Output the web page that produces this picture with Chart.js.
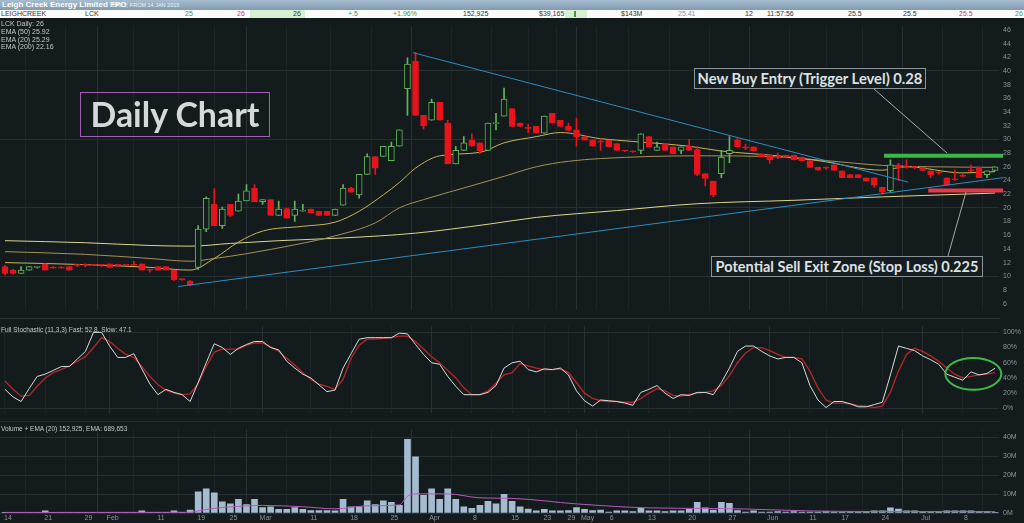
<!DOCTYPE html>
<html><head><meta charset="utf-8">
<script src="https://cdn.jsdelivr.net/npm/chart.js@4.4.1/dist/chart.umd.min.js"></script>
<style>
html,body{margin:0;padding:0;background:#141b1d;width:1024px;height:523px;overflow:hidden;font-family:"Liberation Sans",Arial,sans-serif;}
.abs{position:absolute;}
canvas{position:absolute;left:0;}
.hdr{position:absolute;top:0;font-size:7px;line-height:8px;white-space:nowrap;}
.lg{position:absolute;left:1px;font-size:7px;line-height:8px;color:#c3c8ca;white-space:nowrap;z-index:5;}
.box{position:absolute;box-sizing:border-box;text-align:center;white-space:nowrap;z-index:6;}
.box span{display:inline-block;font-family:Lato,"Open Sans",sans-serif;font-weight:bold;color:#dde1e3;}
</style></head><body>

<div class="abs" style="left:0;top:0;width:1024px;height:10px;background:linear-gradient(#a7bdd0,#809ab1);">
  <span class="abs" style="left:2px;top:0;font:bold 8px/10px 'Liberation Sans',Arial;color:#fff;">Leigh Creek Energy Limited FPO</span>
  <span class="abs" style="left:112px;top:0;font:5.5px/10px 'Liberation Sans',Arial;color:#eef3f8;">DAILY, FROM 14 JAN 2019</span>
</div>
<div class="abs" style="left:0;top:10px;width:1024px;height:8px;background:#fbfcfb;">
  <div class="abs" style="left:250px;top:0;width:55px;height:8px;background:#d6f0cf;"></div>
  <div class="abs" style="left:565px;top:0;width:22px;height:8px;background:#d6f0cf;"></div>
  <div class="abs" style="left:574px;top:1px;width:2px;height:6px;background:#3d9a3d;"></div>
  <span class="hdr" style="left:1px;color:#333;">LEIGHCREEK</span>
  <span class="hdr" style="left:85px;color:#333;">LCK</span>
  <span class="hdr" style="left:185px;color:#3d9a3d;">25</span>
  <span class="hdr" style="left:237px;color:#d04040;">26</span>
  <span class="hdr" style="left:293px;color:#333;">26</span>
  <span class="hdr" style="left:348px;color:#3d9a3d;">+.5</span>
  <span class="hdr" style="left:393px;color:#3d9a3d;">+1.96%</span>
  <span class="hdr" style="left:463px;color:#333;">152,925</span>
  <span class="hdr" style="left:539px;color:#333;">$39,165</span>
  <span class="hdr" style="left:621px;color:#333;">$143M</span>
  <span class="hdr" style="left:678px;color:#7f93a8;">25.41</span>
  <span class="hdr" style="left:745px;color:#333;">12</span>
  <span class="hdr" style="left:767px;color:#333;">11:57:56</span>
  <span class="hdr" style="left:848px;color:#333;">25.5</span>
  <span class="hdr" style="left:903px;color:#333;">25.5</span>
  <span class="hdr" style="left:959px;color:#d04040;">25.5</span>
  <span class="hdr" style="left:1015px;color:#3d9a3d;">26</span>
</div>

<canvas id="price" width="1024" height="300" style="top:18px"></canvas>
<canvas id="stoch" width="1024" height="103" style="top:318px"></canvas>
<canvas id="vol" width="1024" height="102" style="top:421px"></canvas>
<div class="abs" style="left:0;top:318px;width:1000px;height:1px;background:#2c3538;z-index:4"></div>
<div class="abs" style="left:0;top:421px;width:1000px;height:1px;background:#232c2f;z-index:4"></div>

<div class="lg" style="top:20px">LCK Daily: 26</div>
<div class="lg" style="top:28px">EMA (50) 25.92</div>
<div class="lg" style="top:36px">EMA (20) 25.29</div>
<div class="lg" style="top:43px">EMA (200) 22.16</div>
<div class="lg" style="top:326px;font-size:6.5px">Full Stochastic (11,3,3) Fast: 52.8, Slow: 47.1</div>
<div class="lg" style="top:425px;font-size:6.5px">Volume + EMA (20) 152,925, EMA: 689,653</div>

<svg class="abs" style="left:0;top:0;z-index:5" width="1024" height="523">
  <line x1="874" y1="89" x2="947" y2="153" stroke="#a3a9ac" stroke-width="1"/>
  <line x1="948" y1="256" x2="966" y2="192" stroke="#a3a9ac" stroke-width="1"/>
</svg>

<div class="box" style="left:80px;top:92px;width:190px;height:45px;border:1.5px solid #a35db5;line-height:42px;"><span class="fit" data-w="169" style="color:#d6d9db">Daily Chart</span></div>
<div class="box" style="left:694px;top:68px;width:232px;height:21px;border:1px solid #8b9396;background:#161d20;line-height:19px;"><span class="fit" data-w="225">New Buy Entry (Trigger Level) 0.28</span></div>
<div class="box" style="left:711px;top:256px;width:272px;height:21px;border:1px solid #8b9396;background:#161d20;line-height:19px;"><span class="fit" data-w="263">Potential Sell Exit Zone (Stop Loss) 0.225</span></div>

<script>
// ---------- DATA ----------
const tickIndex  = [0,5,10,13,19,24,28,32,38,43,48,53,58,63,67,70,72,75,80,85,90,95,100,104,109,114,119];
const tickLabels = ["14","21","29","Feb","11","19","25","Mar","11","18","25","Apr","8","15","23","29","May","6","13","20","27","Jun","11","17","24","Jul","8"];
const monthTicks = [13,32,53,72,95,114];

const opens = [11.4,10.9,10.4,10.9,11.3,11.8,11.2,11.2,11.4,11.6,
 11.6,11.6,11.6,11.8,11.6,11.6,11.6,11.8,10.9,11.4,
 11.4,10.9,9.5,9.3,11.3,16.9,20.5,17.4,20.5,19.5,
 21.0,22.9,20.9,21.2,18.9,19.9,18.9,19.5,19.8,19.5,
 19.5,18.9,20.4,22.9,21.9,24.9,27.5,27.5,26.9,29.0,
 37.4,41.4,33.5,32.8,35.4,32.4,26.4,28.4,29.9,29.5,
 28.4,32.3,33.4,34.5,32.4,31.6,31.9,30.9,33.8,32.8,
 31.9,31.4,30.4,29.9,29.6,29.9,29.4,28.3,28.2,28.4,
 30.4,28.4,29.4,28.9,28.4,29.0,28.5,25.0,23.9,25.0,
 27.9,29.9,28.9,28.9,27.9,27.7,27.4,27.7,27.7,27.4,
 26.9,25.9,25.8,26.3,25.4,24.85,24.85,24.4,24.4,23.0,
 22.5,26.3,25.9,25.9,25.9,25.4,25.1,24.4,24.1,24.6,
 25.4,25.9,24.85,25.45];
const highs = [11.6,11.0,11.4,11.4,11.4,11.8,11.4,11.4,11.4,11.6,
 11.8,11.6,11.6,11.8,11.6,11.6,12.2,11.8,10.9,11.4,
 11.4,10.9,9.6,9.4,17.4,21.6,22.8,20.1,20.5,22.0,
 23.4,23.4,21.2,21.2,21.0,19.9,21.0,20.5,19.8,19.5,
 19.5,19.8,23.4,23.0,24.9,27.9,27.5,29.0,29.6,31.4,
 41.9,42.7,33.5,35.9,35.4,32.8,29.0,30.4,30.8,29.5,
 32.4,33.8,37.5,34.5,32.4,32.2,31.9,33.4,33.8,32.8,
 32.4,33.1,30.4,29.9,30.1,29.9,29.4,28.4,28.3,30.8,
 30.4,29.6,29.4,28.9,28.9,30.0,29.0,25.0,23.9,28.4,
 30.4,30.3,29.3,28.9,27.9,27.7,28.0,27.7,27.7,27.4,
 26.9,25.9,26.0,26.3,25.4,24.85,24.85,24.4,24.4,23.0,
 27.0,26.5,27.0,26.0,25.9,25.4,25.3,24.4,25.5,25.0,
 26.3,25.9,25.4,26.0];
const lows = [10.2,10.3,10.4,10.9,11.2,10.9,11.2,11.2,10.9,11.4,
 11.4,11.6,11.4,11.3,11.4,11.6,11.6,10.9,10.6,10.9,
 10.9,9.4,9.4,8.6,11.0,16.5,17.4,17.0,18.7,19.5,
 21.0,20.9,20.5,18.9,18.9,18.5,18.0,19.5,19.3,18.9,
 18.9,18.9,20.4,22.3,21.4,24.9,24.9,27.5,26.9,29.0,
 33.5,33.5,31.5,32.8,32.8,26.4,26.4,28.4,29.0,27.9,
 28.4,31.4,33.4,31.9,31.9,31.0,30.9,30.9,32.4,31.9,
 31.3,29.0,29.9,29.0,28.4,28.9,28.4,28.2,28.1,27.9,
 28.9,28.4,28.4,27.9,27.9,28.4,24.7,23.2,21.6,24.4,
 26.6,28.9,28.5,28.3,27.4,26.5,27.2,27.4,27.0,26.9,
 25.9,25.5,25.6,25.45,24.4,24.4,24.4,23.9,23.0,22.0,
 22.3,24.0,25.8,25.7,25.45,24.4,24.9,23.3,24.0,24.5,
 25.3,24.4,24.4,25.45];
const closes = [10.4,10.4,10.9,11.4,11.4,10.9,11.2,11.2,10.9,11.6,
 11.6,11.6,11.6,11.3,11.6,11.6,11.6,10.9,10.9,10.9,
 10.9,9.5,9.5,8.7,16.9,21.4,17.4,19.8,18.9,21.0,
 22.5,20.9,21.2,18.9,19.8,18.5,19.8,19.6,19.3,18.9,
 18.9,19.8,22.9,22.3,24.9,27.5,25.8,29.0,29.0,31.4,
 41.0,33.5,32.0,35.4,32.8,26.4,28.4,29.5,29.0,28.3,
 32.4,32.4,35.9,31.9,31.9,31.6,30.9,33.4,32.4,31.9,
 31.3,30.4,29.9,29.0,29.6,28.9,28.4,28.3,28.2,30.8,
 28.9,28.9,28.4,27.9,28.9,28.4,24.9,24.3,21.9,27.4,
 28.4,28.9,28.7,28.3,27.4,27.0,27.4,27.4,27.0,26.9,
 25.9,25.5,25.8,25.45,24.4,24.4,24.4,23.9,23.3,22.3,
 26.3,25.8,25.9,25.9,25.45,24.85,25.1,23.3,24.1,24.6,
 25.4,24.4,25.4,26.0];

const ema20Pts  = [[0,12.0],[10,11.7],[18,11.3],[23,10.9],[26,12.6],[29,15.0],[32,16.6],[37,17.3],[41,17.9],[44,19.5],[47,21.9],[49,23.7],[51,25.8],[54,27.6],[59,28.1],[62,29.5],[66,30.4],[69,31.0],[74,30.1],[78,29.7],[85,29.0],[89,28.3],[96,27.6],[101,26.9],[109,25.5],[112,26.0],[119,25.1],[123,25.29]];
const ema50Pts  = [[0,13.6],[10,13.2],[18,12.6],[23,12.2],[26,12.6],[30,13.3],[36,14.6],[41,15.9],[46,17.8],[49,20.0],[52,21.2],[57,22.9],[62,24.6],[66,26.0],[70,26.8],[74,27.2],[86,27.6],[95,27.5],[102,26.9],[109,26.2],[115,26.0],[123,25.92]];
const ema200Pts = [[0,15.2],[10,14.9],[18,14.5],[23,14.4],[28,14.8],[34,15.2],[42,15.6],[51,16.3],[60,17.6],[66,18.6],[76,19.6],[86,20.6],[98,21.1],[109,21.6],[123,22.16]];

const trendDown = [[50.7,42.67],[112.2,23.75]];
const trendUp   = [[21.5,8.5],[124.0,24.4]];
const buyLevel  = [[109.2,27.6],[124.0,27.6]];
const stopLevel = [[114.7,22.55],[124.0,22.55]];

const priceTicks = [6,8,10,12,14,16,18,20,22,24,26,28,30,32,34,36,38,40,42,44,46];

const stochFast = [25,15,9,26,42,45,50,55,55,65,
 75,100,100,82,67,67,72,52,32,18,
 25,21,18,9,34,60,85,80,71,79,
 84,88,88,80,77,62,53,45,40,31,
 22,24,53,72,91,93,93,93,93,99,
 98,84,71,60,58,42,29,18,18,18,
 21,30,53,60,62,51,48,52,51,53,
 44,23,10,3,11,10,9,7,4,21,
 25,30,20,13,18,17,21,21,18,34,
 53,75,82,82,75,69,65,67,67,60,
 30,11,1,9,9,6,2,2,5,8,
 44,82,79,76,69,64,58,45,41,37,
 48,44,46,52.8];
const stochSlow = [36,25,16,17,29,40,47,51,56,62,
 68,80,93,88,79,71,67,55,42,31,
 24,20,18,19,33,55,74,78,78,78,
 83,86,86,81,75,66,57,47,38,32,
 29,25,38,66,83,91,91,92,93,95,
 95,88,78,68,60,50,40,27,18,18,
 23,33,44,47,59,56,53,51,51,52,
 47,34,20,13,10,9,9,8,8,13,
 20,26,23,17,16,18,20,21,23,30,
 43,60,73,80,80,76,71,67,67,65,
 49,27,11,7,7,6,4,3,1,3,
 21,49,71,79,75,69,62,53,45,40,
 42,44,45,47.1];
const stochTicks = [0,20,40,60,80,100];
const stochCircle = {x:120.3, y:45.4, rx:3.48, ry:21};

const volumes = [0.4,0.3,0.3,0.3,0.3,1.1,0.4,0.3,0.3,0.3,
 0.3,0.3,0.4,0.3,0.3,0.3,0.3,1.1,0.3,0.3,
 0.3,1.1,0.3,1.6,11.2,12.8,10.7,5.9,4.8,7.2,
 4.5,7.2,2.9,3.2,1.9,1.9,2.9,1.9,1.3,1.3,
 1.3,1.1,7.2,3.2,3.2,6.4,4.5,6.4,5.6,4.0,
 38.9,29.6,9.3,12.8,7.2,12.8,7.2,3.2,2.4,4.0,
 6.1,4.8,9.9,6.1,3.2,2.1,1.1,1.9,1.1,1.1,
 1.3,2.9,1.9,1.3,1.6,0.5,1.1,1.1,0.8,2.4,
 1.1,1.1,0.8,1.1,1.1,1.9,5.6,2.7,1.6,5.6,
 5.1,1.3,0.5,1.1,0.5,0.5,0.8,0.5,0.8,0.5,
 0.5,0.5,0.8,0.5,0.5,0.8,0.5,0.8,1.1,1.1,
 2.7,2.1,1.1,1.1,0.8,0.5,0.5,1.1,1.1,1.1,
 1.1,0.8,0.8,0.15];
const volEmaPts = [[0,0.3],[23,0.4],[24,1.1],[26,2.5],[28,3.2],[32,4.0],[37,3.3],[41,2.2],[45,3.8],[49,4.3],[50,8.8],[51,10.1],[55,10.1],[59,8.0],[63,7.7],[71,4.8],[80,2.7],[88,2.4],[92,2.1],[100,1.1],[108,0.8],[117,0.8],[123,0.69]];
const volTicks = [0,5,10,15,20,25,30,35,40];

// ---------- STYLE ----------
const BG = '#141b1d', GRID = '#273033', GRID_W = '#1c2427';
const UP = '#62b55c', DOWN = '#e8141c', AXIS_TXT = '#8b9497';
const FONT = "'Liberation Sans', Arial, sans-serif";
Chart.defaults.font.family = FONT;
Chart.defaults.font.size = 7;
Chart.defaults.color = AXIS_TXT;

const X_MIN = -0.621, X_MAX = 123.49;
const toXY = a => a.map(p => ({x:p[0], y:p[1]}));
const up = i => closes[i] > opens[i];

function xScale(axisHeight){
  return {
    type:'linear', min:X_MIN, max:X_MAX, offset:false,
    afterBuildTicks: s => { s.ticks = tickIndex.map(v => ({value:v})); },
    ticks:{display:false},
    grid:{drawTicks:false, color: c => (c.tick && monthTicks.includes(c.tick.value)) ? GRID : GRID_W},
    border:{display:false},
    afterFit: s => { s.height = axisHeight; }
  };
}
// draws the date labels under the volume pane from the x scale
const dateLabels = {id:'dateLabels', afterDraw(chart){
  const {ctx, scales:{x}, chartArea} = chart;
  ctx.save(); ctx.font = '7px ' + FONT; ctx.fillStyle = AXIS_TXT;
  ctx.textAlign = 'center'; ctx.textBaseline = 'top';
  tickIndex.forEach((v, k) => ctx.fillText(tickLabels[k], x.getPixelForValue(v) + 3, chartArea.bottom + 1.5));
  ctx.restore();
}};
function yScale(min, max, ticks, gridFn, fmt){
  return {
    position:'right', min, max,
    afterBuildTicks: s => { s.ticks = ticks.map(v => ({value:v})); },
    ticks:{padding:4, color:AXIS_TXT, callback: fmt},
    grid:{drawTicks:false, color: c => (c.tick && gridFn(c.tick.value)) ? GRID : 'rgba(0,0,0,0)'},
    border:{display:false},
    afterFit: s => { s.width = 25; }
  };
}
const common = {responsive:false, animation:false, events:[], layout:{padding:0},
  plugins:{legend:{display:false}, tooltip:{enabled:false}}};

// ---------- PRICE ----------
const idx = opens.map((_, i) => i);
new Chart(document.getElementById('price'), {
  type:'bar',
  data:{datasets:[
    {type:'line', data:toXY(buyLevel), borderColor:'#3cb54a', borderWidth:4, pointRadius:0, order:0, clip:6},
    {type:'line', data:toXY(stopLevel), borderColor:'#e63a4a', borderWidth:4, pointRadius:0, order:0, clip:6},
    {type:'line', data:toXY(trendDown), borderColor:'#2e8cc2', borderWidth:1, pointRadius:0, order:1},
    {type:'line', data:toXY(trendUp), borderColor:'#2e8cc2', borderWidth:1, pointRadius:0, order:1, clip:6},
    {type:'bar', data:idx.map(i => ({x:i, y:[opens[i], closes[i]]})), grouped:false, barThickness:6,
      minBarLength:1, borderSkipped:false, borderWidth:1,
      backgroundColor: idx.map(i => up(i) ? BG : DOWN), borderColor: idx.map(i => up(i) ? UP : DOWN), order:2},
    {type:'bar', data:idx.map(i => ({x:i, y:[lows[i], highs[i]]})), grouped:false, barThickness:1,
      backgroundColor: idx.map(i => up(i) ? UP : DOWN), order:3},
    {type:'line', data:toXY(ema20Pts), borderColor:'#c9b556', borderWidth:1, pointRadius:0, cubicInterpolationMode:'monotone', order:4},
    {type:'line', data:toXY(ema50Pts), borderColor:'#a4905a', borderWidth:1, pointRadius:0, cubicInterpolationMode:'monotone', order:4},
    {type:'line', data:toXY(ema200Pts), borderColor:'#dcd68e', borderWidth:1, pointRadius:0, cubicInterpolationMode:'monotone', order:4}
  ]},
  options:{...common, scales:{
    x: xScale(0),
    y: yScale(5.1, 46.54, priceTicks, v => v % 10 === 0, v => String(v))
  }}
});

// ---------- STOCHASTIC ----------
const circlePlugin = {id:'circle', afterDatasetsDraw(chart){
  const {ctx, scales:{x, y}} = chart;
  const cx = x.getPixelForValue(stochCircle.x), cy = y.getPixelForValue(stochCircle.y);
  const rx = x.getPixelForValue(stochCircle.x + stochCircle.rx) - cx;
  const ry = cy - y.getPixelForValue(stochCircle.y + stochCircle.ry);
  ctx.save(); ctx.beginPath(); ctx.ellipse(cx, cy, rx, ry, 0, 0, Math.PI*2);
  ctx.strokeStyle = '#3fb94b'; ctx.lineWidth = 2; ctx.stroke(); ctx.restore();
}};
new Chart(document.getElementById('stoch'), {
  type:'line',
  data:{datasets:[
    {data:stochFast.map((v,i)=>({x:i, y:v})), borderColor:'#d9dcdc', borderWidth:1, pointRadius:0, order:0},
    {data:stochSlow.map((v,i)=>({x:i, y:v})), borderColor:'#b8262b', borderWidth:1.3, pointRadius:0, order:1}
  ]},
  options:{...common, scales:{
    x: xScale(0),
    y: yScale(-5.86, 108.1, stochTicks, v => v === 0 || v === 100, v => v + '%')
  }},
  plugins:[circlePlugin]
});

// ---------- VOLUME ----------
new Chart(document.getElementById('vol'), {
  type:'bar',
  data:{datasets:[
    {type:'line', data:toXY(volEmaPts), borderColor:'#b25bbd', borderWidth:1, pointRadius:0, cubicInterpolationMode:'monotone', order:0},
    {type:'bar', data:volumes.map((v,i)=>({x:i, y:v})), backgroundColor:'#a5bbd0', barThickness:6, grouped:false, order:1}
  ]},
  options:{...common, scales:{
    x: xScale(10),
    y: yScale(0, 44.2, volTicks, v => v % 10 === 0, v => v + 'M')
  }},
  plugins:[dateLabels]
});

// ---------- fit annotation text widths ----------
document.querySelectorAll('.fit').forEach(el => {
  el.style.fontSize = '20px';
  const w = el.getBoundingClientRect().width;
  el.style.fontSize = (20 * Number(el.dataset.w) / w) + 'px';
});
</script>
</body></html>
